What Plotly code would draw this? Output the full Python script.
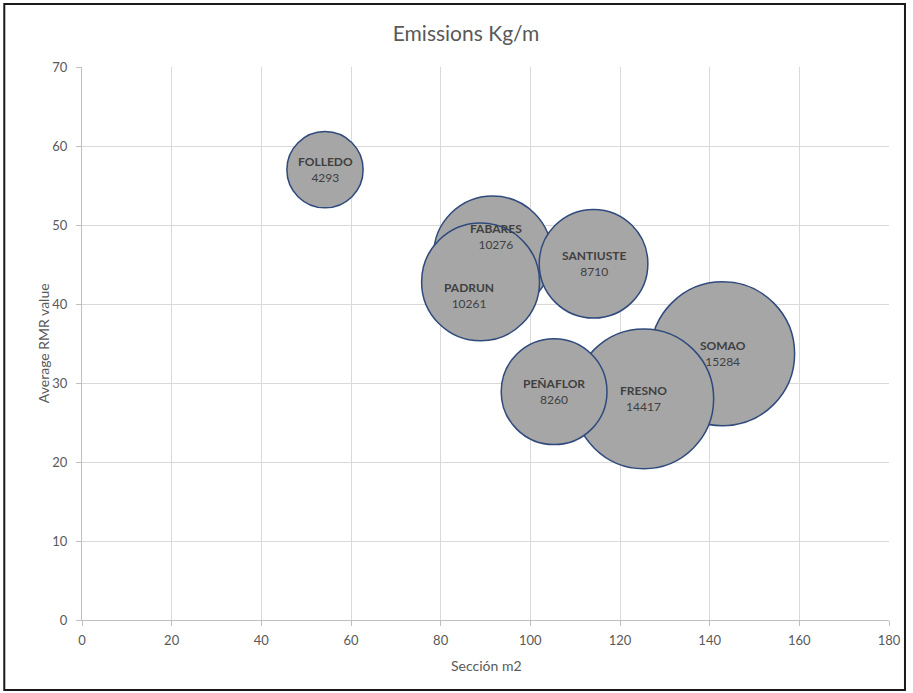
import plotly.graph_objects as go

# Tunnel data: cross-section (m2), average RMR, emissions (kg/m)
names = ["SOMAO", "FRESNO", "FABARES", "PADRUN", "SANTIUSTE", "PEÑAFLOR", "FOLLEDO"]
seccion = [142.9, 125.3, 91.6, 88.9, 114.1, 105.3, 54.2]
rmr = [33.7, 28.0, 46.2, 42.8, 45.1, 28.9, 57.0]
emissions = [15284, 14417, 10276, 10261, 8710, 8260, 4293]

# label nudges (px) for overlapping bubbles
label_dx = [0, 0, 3, -12, 0, 0, 0]
label_dy = [0, 0, 19, -14, 0, 0, 0]

x_ticks = list(range(0, 181, 20))
y_ticks = list(range(0, 71, 10))

FONT = "Lato, Carlito, Calibri, sans-serif"
GREY_TXT = "#595959"

fig = go.Figure()
fig.add_trace(go.Scatter(
    x=seccion, y=rmr, mode="markers",
    marker=dict(
        size=emissions, sizemode="area", sizeref=1.476,
        color="#A6A6A6", opacity=1,
        line=dict(color="#2F4A7C", width=1.5),
    ),
    hovertext=names, showlegend=False, cliponaxis=False,
))

for n, xv, yv, e, dx, dy in zip(names, seccion, rmr, emissions, label_dx, label_dy):
    fig.add_annotation(
        x=xv, y=yv, xref="x", yref="y",
        text=f"<b>{n}</b><br>{e}", showarrow=False,
        xshift=dx, yshift=dy,
        font=dict(family=FONT, size=12, color="#404040"),
        align="center",
    )

# axis titles
fig.add_annotation(text="Sección m2", xref="paper", yref="paper",
                   x=(488 - 82) / 810, y=-(665 - 620) / 553,
                   xanchor="center", yanchor="middle", showarrow=False,
                   font=dict(family=FONT, size=14, color=GREY_TXT))
fig.add_annotation(text="Average RMR value", xref="paper", yref="paper",
                   x=(43 - 82) / 810, y=(620 - 343) / 553,
                   xanchor="center", yanchor="middle",
                   textangle=-90, showarrow=False,
                   font=dict(family=FONT, size=14, color=GREY_TXT))

# chart border
fig.add_shape(type="rect", xref="paper", yref="paper",
              x0=-0.0963, x1=1.0198, y0=-0.1266, y1=1.114,
              line=dict(color="#1a1a1a", width=2), fillcolor="rgba(0,0,0,0)")

fig.update_layout(
    width=913, height=693,
    margin=dict(l=82, r=21, t=67, b=73),
    paper_bgcolor="white", plot_bgcolor="white",
    title=dict(text="Emissions Kg/m", x=466 / 913, xanchor="center",
               y=1 - 34 / 693, yanchor="middle", yref="container",
               font=dict(family=FONT, size=21, color=GREY_TXT)),
    font=dict(family=FONT, size=13, color=GREY_TXT),
)
fig.update_xaxes(
    range=[0, 180], tickvals=x_ticks, ticktext=[str(v) for v in x_ticks],
    showgrid=True, gridcolor="#D9D9D9", gridwidth=1,
    showline=True, linecolor="#BFBFBF", linewidth=1,
    ticks="outside", ticklen=5, tickcolor="#BFBFBF",
    ticklabelstandoff=3,
    zeroline=False, tickfont=dict(family=FONT, size=13, color=GREY_TXT),
)
fig.update_yaxes(
    range=[0, 70], tickvals=y_ticks, ticktext=[str(v) for v in y_ticks],
    showgrid=True, gridcolor="#D9D9D9", gridwidth=1,
    showline=True, linecolor="#BFBFBF", linewidth=1,
    ticks="outside", ticklen=5, tickcolor="#BFBFBF",
    ticklabelstandoff=6,
    zeroline=False, tickfont=dict(family=FONT, size=13, color=GREY_TXT),
)

fig.write_html("out.html")
